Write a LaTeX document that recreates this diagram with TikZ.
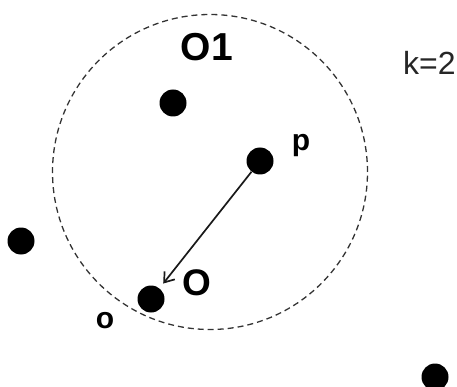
\documentclass[tikz,border=0pt]{standalone}
\usepackage{fontspec}
\setmainfont{Liberation Sans}
\usetikzlibrary{arrows.meta}
\begin{document}
\begin{tikzpicture}[x=1pt,y=-1pt,
  dot/.style={circle,fill=black,inner sep=0pt,minimum size=27pt},
  lbl/.style={inner sep=0pt,anchor=base,font=\bfseries},
  ring/.style={draw=black!80,dashed,dash pattern=on 6pt off 4pt,line width=1.3pt}]
\useasboundingbox (0,0) rectangle (457,387);
\node[ring,circle,minimum size=315pt,inner sep=0pt] (c) at (210,172) {};
\node[dot] (top) at (173,103) {};
\node[dot] (p) at (260,161) {};
\node[dot] (left) at (21,241) {};
\node[dot] (o) at (151,299) {};
\node[dot] (br) at (435,377) {};
\node[lbl,font=\bfseries\fontsize{39}{41}\selectfont] (t1) at (207,61) {O1};
\node[lbl,font=\bfseries\fontsize{37}{39}\selectfont] (t2) at (197,295) {O};
\node[lbl,font=\bfseries\fontsize{30}{32}\selectfont] (t3) at (301,151) {p};
\node[lbl,font=\bfseries\fontsize{30}{32}\selectfont] (t4) at (105,328) {o};
\node[inner sep=0pt,anchor=base west,font=\fontsize{32}{34}\selectfont,text=black!85] (k) at (403,75) {k=2};
\draw[black!90,line width=1.7pt,-{Straight Barb[length=9pt,width=13pt,line width=1.7pt]},shorten >=6pt] (p) -- (o);
\end{tikzpicture}
\end{document}
